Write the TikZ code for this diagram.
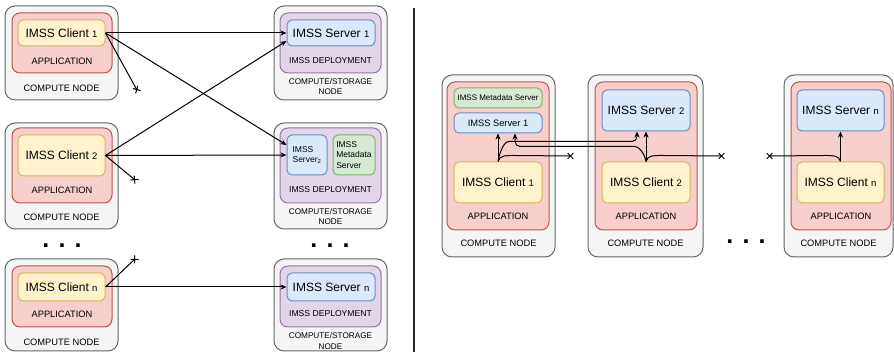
\documentclass[tikz,border=0pt]{standalone}
\usepackage{fontspec}
\setmainfont{Liberation Sans}
\usetikzlibrary{arrows.meta,decorations.markings,positioning}

\definecolor{hostfill}{HTML}{F5F5F5}
\definecolor{hostline}{HTML}{666666}
\definecolor{appfill}{HTML}{F8CECC}
\definecolor{appline}{HTML}{B85450}
\definecolor{clifill}{HTML}{FFF2CC}
\definecolor{cliline}{HTML}{D6B656}
\definecolor{srvfill}{HTML}{DAE8FC}
\definecolor{srvline}{HTML}{6C8EBF}
\definecolor{depfill}{HTML}{E1D5E7}
\definecolor{depline}{HTML}{9673A6}
\definecolor{metafill}{HTML}{D5E8D4}
\definecolor{metaline}{HTML}{82B366}

\newcommand{\cnum}[1]{{\fontsize{9.5}{10}\selectfont #1}}

\tikzset{%
	host/.style    = {draw=hostline, fill=hostfill, line width=1pt, rounded corners=10pt, inner sep=0pt},
	app/.style     = {draw=appline, fill=appfill, line width=1pt, rounded corners=8pt, inner sep=0pt},
	deploy/.style  = {draw=depline, fill=depfill, line width=1pt, rounded corners=8pt, inner sep=0pt},
	client/.style  = {draw=cliline, fill=clifill, line width=1pt, rounded corners=5pt, inner sep=0pt, font=\fontsize{12}{14}\selectfont},
	server/.style  = {draw=srvline, fill=srvfill, line width=1pt, rounded corners=5pt, inner sep=0pt, font=\fontsize{12}{14}\selectfont},
	meta/.style    = {draw=metaline, fill=metafill, line width=1pt, rounded corners=5pt, inner sep=0pt, align=left, font=\fontsize{8.5}{10.5}\selectfont},
	tag/.style     = {inner sep=0pt, font=\fontsize{9.3}{11}\selectfont},
	smalltag/.style= {inner sep=0pt, align=center, font=\fontsize{8.2}{10.5}\selectfont},
	dots/.style    = {inner sep=0pt, font=\bfseries\fontsize{25}{25}\selectfont},
	link/.style    = {line width=1pt, ->},
	lost/.style    = {line width=1pt, postaction={decorate, decoration={markings,
	                  mark=at position -0.5pt with {\draw[-] (-2.8,-2.8) -- (2.8,2.8) (-2.8,2.8) -- (2.8,-2.8);}}}},
}

\begin{document}
\begin{tikzpicture}[x=1pt,y=1pt,>={Stealth[length=6pt,width=5pt]}]
	\useasboundingbox (0,0) rectangle (894,352);

	% clients, left
	\node [host,minimum width=113,minimum height=94] (h1) at (61.5,299) {};
	\node [app,minimum width=100,minimum height=60] (a1) at (62,309) {};
	\node [client,minimum width=87,minimum height=26] (c1) at (61.5,319) {IMSS Client \cnum{1}};
	\node [tag] (a1t) at (62,291) {APPLICATION};
	\node [tag] (h1t) at (61.5,264) {COMPUTE NODE};

	\node [host,minimum width=113,minimum height=106] (h2) at (61.5,176) {};
	\node [app,minimum width=100,minimum height=75] (a2) at (62,186.5) {};
	\node [client,minimum width=87,minimum height=41] (c2) at (61.5,196.5) {IMSS Client \cnum{2}};
	\node [tag] (a2t) at (62,162) {APPLICATION};
	\node [tag] (h2t) at (61.5,135) {COMPUTE NODE};

	\node [dots] (dl) at (62,106) {. . .};

	\node [host,minimum width=113,minimum height=92] (hn) at (61.5,47) {};
	\node [app,minimum width=100,minimum height=61] (an) at (62,55.5) {};
	\node [client,minimum width=87,minimum height=28] (cn) at (61.5,65) {IMSS Client \cnum{n}};
	\node [tag] (ant) at (62,38) {APPLICATION};
	\node [tag] (hnt) at (61.5,10) {COMPUTE NODE};

	% servers, left
	\node [host,minimum width=113,minimum height=94] (g1) at (330.5,299) {};
	\node [deploy,minimum width=101,minimum height=60] (d1) at (330.5,309) {};
	\node [server,minimum width=88,minimum height=26] (s1) at (331,319) {IMSS Server \cnum{1}};
	\node [tag,font=\fontsize{8.6}{10}\selectfont] (d1t) at (330.5,291) {IMSS DEPLOYMENT};
	\node [smalltag] (g1t) at (330.5,265.5) {COMPUTE/STORAGE\\NODE};

	\node [host,minimum width=113,minimum height=106] (g2) at (330.5,176) {};
	\node [deploy,minimum width=101,minimum height=75] (d2) at (330.5,186.5) {};
	\node [meta,draw=srvline,fill=srvfill,minimum width=40,minimum height=40] (s2) at (307,197) {IMSS\\Server\textsubscript{2}};
	\node [meta,minimum width=42,minimum height=40] (m2) at (354,197) {IMSS\\Metadata\\Server};
	\node [tag,font=\fontsize{8.6}{10}\selectfont] (d2t) at (330.5,162) {IMSS DEPLOYMENT};
	\node [smalltag] (g2t) at (330.5,135.5) {COMPUTE/STORAGE\\NODE};

	\node [dots] (dr) at (330,106) {. . .};

	\node [host,minimum width=113,minimum height=92] (gn) at (330.5,47) {};
	\node [deploy,minimum width=101,minimum height=61] (dn) at (330.5,55.5) {};
	\node [server,minimum width=88,minimum height=28] (sn) at (331,65) {IMSS Server \cnum{n}};
	\node [tag,font=\fontsize{8.6}{10}\selectfont] (dnt) at (330.5,38) {IMSS DEPLOYMENT};
	\node [smalltag] (gnt) at (330.5,11) {COMPUTE/STORAGE\\NODE};

	\coordinate (x1) at (137,262);
	\coordinate (x2) at (135,172);
	\coordinate (xn) at (135,93);

	\draw[link] (c1.east) -- (s1.west);
	\draw[link] (c1.east) -- ([yshift=10]s2.west);
	\draw[lost] (c1.east) -- (x1);
	\draw[link] (c2.east) -- ([yshift=-8]s1.west);
	\draw[link] (c2.east) -- (s2.west);
	\draw[lost] (c2.east) -- (x2);
	\draw[link] (cn.east) -- (sn.west);
	\draw[lost] (cn.east) -- (xn);

	% separator
	\coordinate (sep1) at (414,344);
	\coordinate (sep2) at (414,0);
	\draw[line width=1.3pt,black!85] (sep1) -- (sep2);

	% right: one server per compute node
	\node [host,minimum width=113,minimum height=182] (rh1) at (498.5,186) {};
	\node [app,minimum width=102,minimum height=148] (ra1) at (498,196) {};
	\node [meta,align=center,minimum width=88,minimum height=20,font=\fontsize{8}{9}\selectfont] (rm1) at (498,254) {IMSS Metadata Server};
	\node [server,minimum width=88,minimum height=20,font=\fontsize{9.3}{11}\selectfont] (rs1) at (498,229) {IMSS Server 1};
	\node [client,minimum width=88,minimum height=41] (rc1) at (498,169.5) {IMSS Client \cnum{1}};
	\node [tag] (ra1t) at (498,136) {APPLICATION};
	\node [tag] (rh1t) at (498.5,109) {COMPUTE NODE};

	\node [host,minimum width=115,minimum height=182] (rh2) at (645.5,186) {};
	\node [app,minimum width=102,minimum height=148] (ra2) at (646,196) {};
	\node [server,minimum width=88,minimum height=41] (rs2) at (646,241.5) {IMSS Server \cnum{2}};
	\node [client,minimum width=88,minimum height=41] (rc2) at (646,169.5) {IMSS Client \cnum{2}};
	\node [tag] (ra2t) at (646,136) {APPLICATION};
	\node [tag] (rh2t) at (645.5,109) {COMPUTE NODE};

	\node [dots] (dc) at (746,110) {. . .};

	\node [host,minimum width=109,minimum height=182] (rhn) at (838.5,186) {};
	\node [app,minimum width=100,minimum height=148] (ran) at (841,196) {};
	\node [server,minimum width=87,minimum height=41] (rsn) at (840.5,241.5) {IMSS Server \cnum{n}};
	\node [client,minimum width=87,minimum height=41] (rcn) at (840.5,169.5) {IMSS Client \cnum{n}};
	\node [tag] (rant) at (841,136) {APPLICATION};
	\node [tag] (rhnt) at (838.5,109) {COMPUTE NODE};

	\coordinate (rx1) at (571,196);
	\coordinate (rx2) at (722,196);
	\coordinate (rxn) at (769,196);

	\draw[link] (rc1.north) -- (rs1.south);
	\draw[link,rounded corners=5pt] (rc1.north) to[out=80,in=180] ++(16,20) -| ([xshift=-9]rs2.south);
	\draw[lost] (rc1.north) to[out=80,in=180] ++(16,6) -- (rx1);
	\draw[link] (rc2.north) -- (rs2.south);
	\draw[link,rounded corners=5pt] (rc2.north) to[out=100,in=0] ++(-16,15) -| ([xshift=17]rs1.south);
	\draw[lost] (rc2.north) to[out=80,in=180] ++(16,6) -- (rx2);
	\draw[link] (rcn.north) -- (rsn.south);
	\draw[lost] (rcn.north) to[out=100,in=0] ++(-16,6) -- (rxn);
\end{tikzpicture}
\end{document}
